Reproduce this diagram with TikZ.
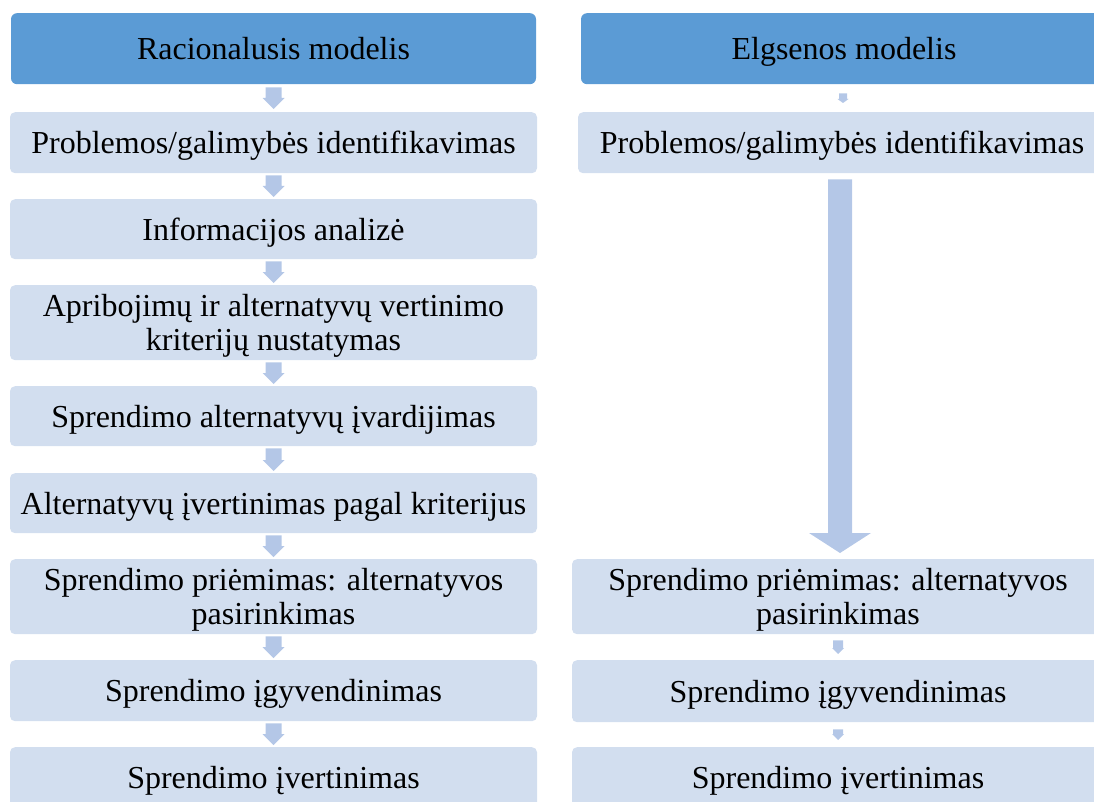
\documentclass[tikz,border=0pt]{standalone}
\usepackage{fontspec}
\setmainfont{Liberation Serif}
\usetikzlibrary{calc}

\definecolor{headblue}{HTML}{5B9BD5}
\definecolor{stepfill}{HTML}{D2DEEF}
\definecolor{arrowfill}{HTML}{B4C7E7}

% Block arrow pointing down from node #1 to node #2.
% #3 gap to the nodes, #4 half shaft width, #5 half head width, #6 head length
\newcommand{\blockdown}[6]{%
  \fill[arrowfill] let \p1=(#1.south), \p2=(#2.north),
      \p3=($(#1.south)!0.5!(#2.north)$) in
    (\x3-#4pt,\y1-#3pt) -- (\x3+#4pt,\y1-#3pt) --
    (\x3+#4pt,\y2+#3pt+#6pt) -- (\x3+#5pt,\y2+#3pt+#6pt) --
    (\x3,\y2+#3pt) --
    (\x3-#5pt,\y2+#3pt+#6pt) -- (\x3-#4pt,\y2+#3pt+#6pt) -- cycle;}

\begin{document}
\begin{tikzpicture}[x=1pt,y=-1pt,
  txt/.style={font=\fontsize{32}{34}\selectfont, text depth=0pt},
  header/.style={txt, fill=headblue, rounded corners=6pt, anchor=north,
    inner sep=0pt, minimum height=71pt},
  stepbox/.style={txt, fill=stepfill, rounded corners=5pt, anchor=north,
    inner sep=0pt, align=center},
  lcol/.style={stepbox, minimum width=527pt},
  rcol/.style={stepbox, minimum width=532pt}]

\useasboundingbox (0,0) rectangle (1094,802);
\clip (0,0) rectangle (1094,802);

% Rational model
\node[header, minimum width=525pt] (lh) at (273.5,13) {Racionalusis modelis};
\node[lcol, minimum height=61pt] (l1) at (273.5,112) {Problemos/galimybės identifikavimas};
\node[lcol, minimum height=60pt] (l2) at (273.5,199) {Informacijos analizė};
\node[lcol, minimum height=75pt] (l3) at (273.5,285) {Apribojimų ir alternatyvų vertinimo\\kriterijų nustatymas};
\node[lcol, minimum height=60pt] (l4) at (273.5,386) {Sprendimo alternatyvų įvardijimas};
\node[lcol, minimum height=60pt] (l5) at (273.5,473) {Alternatyvų įvertinimas pagal kriterijus};
\node[lcol, minimum height=75pt] (l6) at (273.5,559) {Sprendimo priėmimas: alternatyvos\\pasirinkimas};
\node[lcol, minimum height=61pt] (l7) at (273.5,660) {Sprendimo įgyvendinimas};
\node[lcol, minimum height=61pt] (l8) at (273.5,747) {Sprendimo įvertinimas};

\blockdown{lh}{l1}{3}{8}{11}{11}
\blockdown{l1}{l2}{2}{8}{11}{11}
\blockdown{l2}{l3}{2}{8}{11}{11}
\blockdown{l3}{l4}{2}{8}{11}{11}
\blockdown{l4}{l5}{2}{8}{11}{11}
\blockdown{l5}{l6}{2}{8}{11}{11}
\blockdown{l6}{l7}{2}{8}{11}{11}
\blockdown{l7}{l8}{2}{8}{11}{11}

% Behavioural model
\node[header, minimum width=526pt] (rh) at (844,13) {Elgsenos modelis};
\node[stepbox, minimum width=528pt, minimum height=61pt] (r1) at (842,112) {Problemos/galimybės identifikavimas};
\node[rcol, minimum height=75pt] (r6) at (838,559) {Sprendimo priėmimas: alternatyvos\\pasirinkimas};
\node[rcol, minimum height=62pt] (r7) at (838,660) {Sprendimo įgyvendinimas};
\node[rcol, minimum height=61pt] (r8) at (838,747) {Sprendimo įvertinimas};

\blockdown{rh}{r1}{9}{4}{5.5}{4}
\blockdown{r1}{r6}{6}{12}{31}{20}
\blockdown{r6}{r7}{6}{5}{6}{6}
\blockdown{r7}{r8}{7}{5}{6}{6}

\end{tikzpicture}
\end{document}
